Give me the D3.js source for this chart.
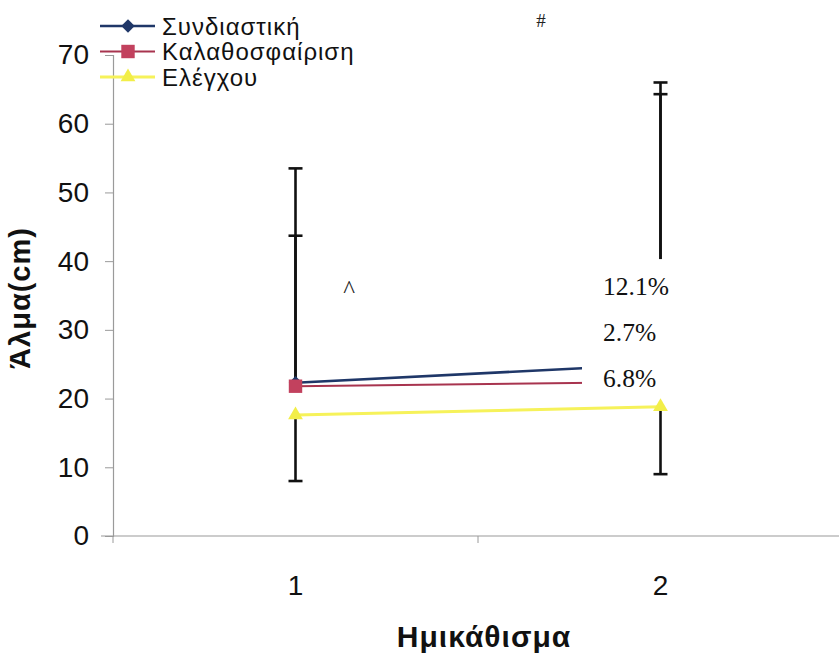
<!DOCTYPE html>
<html>
<head>
<meta charset="utf-8">
<script src="https://cdn.jsdelivr.net/npm/d3@7"></script>
<style>
  html, body { margin: 0; padding: 0; background: #fff; }
  svg { display: block; }
</style>
</head>
<body>
<svg id="chart" width="839" height="655"></svg>
<script>
// Jump height (cm) over two half-squat test sessions, three groups
const categories = ["1", "2"];
const seriesNames = ["Συνδιαστική", "Καλαθοσφαίριση", "Ελέγχου"];
const meansCombined = [22.3, 25.0];
const meansBasket = [21.8, 22.4];
const meansControl = [17.6, 18.8];
// upper whisker ends for the first two groups, lower whisker ends for the control group
const upperCombined = [53.5, 66.0];
const upperBasket = [43.7, 64.3];
const lowerControl = [8.0, 9.0];
const changeLabels = ["12.1%", "2.7%", "6.8%"];
const yTicks = [0, 10, 20, 30, 40, 50, 60, 70];

const svg = d3.select("#chart");
const plot = { left: 113, right: 843, top: 55, bottom: 536 };

const x = d3.scaleBand().domain(categories).range([plot.left, plot.right]).paddingInner(0).paddingOuter(0);
const cx = c => x(c) + x.bandwidth() / 2;
const y = d3.scaleLinear().domain([0, 70]).range([plot.bottom, plot.top]);

const axisColor = "#9a9a9a";
const sans = "Liberation Sans, Arial, sans-serif";

// y axis
const yAxis = svg.append("g")
  .attr("transform", `translate(${plot.left},0)`)
  .call(d3.axisLeft(y).tickValues(yTicks).tickSize(8).tickPadding(16));
yAxis.select(".domain").attr("stroke", axisColor).attr("stroke-width", 1.2);
yAxis.selectAll(".tick line").attr("stroke", axisColor);
yAxis.selectAll(".tick text")
  .attr("font-family", sans).attr("font-size", 28).attr("fill", "#111");

// x axis, ticks at the category boundaries
const xAxisG = svg.append("g").attr("transform", `translate(0,${plot.bottom})`);
xAxisG.append("line")
  .attr("x1", plot.left - 12).attr("x2", 839)
  .attr("stroke", axisColor).attr("stroke-width", 1.2);
const boundaries = categories.map(c => x(c)).concat([x(categories[categories.length - 1]) + x.bandwidth()]);
xAxisG.selectAll(".bt").data(boundaries).join("line")
  .attr("x1", d => d).attr("x2", d => d).attr("y1", 0).attr("y2", 7)
  .attr("stroke", axisColor);
xAxisG.selectAll(".cl").data(categories).join("text")
  .attr("x", d => cx(d)).attr("y", 59)
  .attr("text-anchor", "middle")
  .attr("font-family", sans).attr("font-size", 28).attr("fill", "#111")
  .text(d => d);

// axis titles
svg.append("text")
  .attr("transform", `translate(30,298) rotate(-90)`)
  .attr("text-anchor", "middle")
  .attr("font-family", sans).attr("letter-spacing", 1)
  .attr("font-weight", "bold").attr("font-size", 29).attr("fill", "#111")
  .text("Άλμα(cm)");
svg.append("text")
  .attr("x", 484).attr("y", 647)
  .attr("text-anchor", "middle")
  .attr("font-family", sans).attr("letter-spacing", 1)
  .attr("font-weight", "bold").attr("font-size", 30).attr("fill", "#111")
  .text("Ημικάθισμα");

// error bars
const errG = svg.append("g").attr("stroke", "#111").attr("stroke-width", 2.6);
function whisker(c, from, to) {
  errG.append("line").attr("x1", cx(c)).attr("x2", cx(c)).attr("y1", y(from)).attr("y2", y(to));
  errG.append("line").attr("x1", cx(c) - 7).attr("x2", cx(c) + 7).attr("y1", y(to)).attr("y2", y(to));
}
categories.forEach((c, i) => {
  whisker(c, meansCombined[i], upperCombined[i]);
  whisker(c, meansBasket[i], upperBasket[i]);
  whisker(c, meansControl[i], lowerControl[i]);
});

// series lines and markers
const line = d3.line().x((d, i) => cx(categories[i])).y(d => y(d));
const series = [
  { name: seriesNames[0], values: meansCombined, color: "#1f3768", width: 2.6, shape: d3.symbolSquare, size: 90, rot: 45, fill: "#1f3768" },
  { name: seriesNames[1], values: meansBasket, color: "#a8344f", width: 2, shape: d3.symbolSquare, size: 180, rot: 0, fill: "#c2415e" },
  { name: seriesNames[2], values: meansControl, color: "#f6f25a", width: 3, shape: d3.symbolTriangle, size: 95, rot: 0, fill: "#f2ee48" }
];
series.forEach(s => {
  svg.append("path").datum(s.values)
    .attr("d", line).attr("fill", "none")
    .attr("stroke", s.color).attr("stroke-width", s.width);
  svg.selectAll(null).data(s.values).join("path")
    .attr("transform", (d, i) => `translate(${cx(categories[i])},${y(d)}) rotate(${s.rot})`)
    .attr("d", d3.symbol(s.shape, s.size))
    .attr("fill", s.fill);
});

// percent change text box
const boxX = 582, boxY = y(40.3);
svg.append("rect")
  .attr("x", boxX).attr("y", boxY)
  .attr("width", 120).attr("height", y(22.6) - boxY + 14)
  .attr("fill", "#fff");
svg.selectAll(".pct").data(changeLabels).join("text")
  .attr("x", 603)
  .attr("y", (d, i) => 295 + i * 46)
  .attr("font-family", "Liberation Serif, Times New Roman, serif")
  .attr("font-size", 25.5).attr("fill", "#111")
  .text(d => d);

// significance marks
svg.append("text").attr("x", 349).attr("y", 298).attr("text-anchor", "middle")
  .attr("font-family", "Liberation Serif, serif").attr("font-size", 25).attr("fill", "#222").text("^");
svg.append("text").attr("x", 541).attr("y", 27).attr("text-anchor", "middle")
  .attr("font-family", "Liberation Serif, serif").attr("font-size", 19).attr("fill", "#222").text("#");

// legend
const legend = svg.append("g");
series.forEach((s, i) => {
  const ly = 26 + i * 25.5;
  legend.append("line").attr("x1", 100).attr("x2", 155).attr("y1", ly).attr("y2", ly)
    .attr("stroke", s.color).attr("stroke-width", s.width);
  legend.append("path").attr("transform", `translate(128,${ly}) rotate(${s.rot})`)
    .attr("d", d3.symbol(s.shape, s.size)).attr("fill", s.fill);
  legend.append("text").attr("x", 162).attr("y", ly + 8.5)
    .attr("font-family", sans).attr("letter-spacing", 1)
    .attr("font-size", 24).attr("fill", "#111")
    .text(s.name);
});
</script>
</body>
</html>
